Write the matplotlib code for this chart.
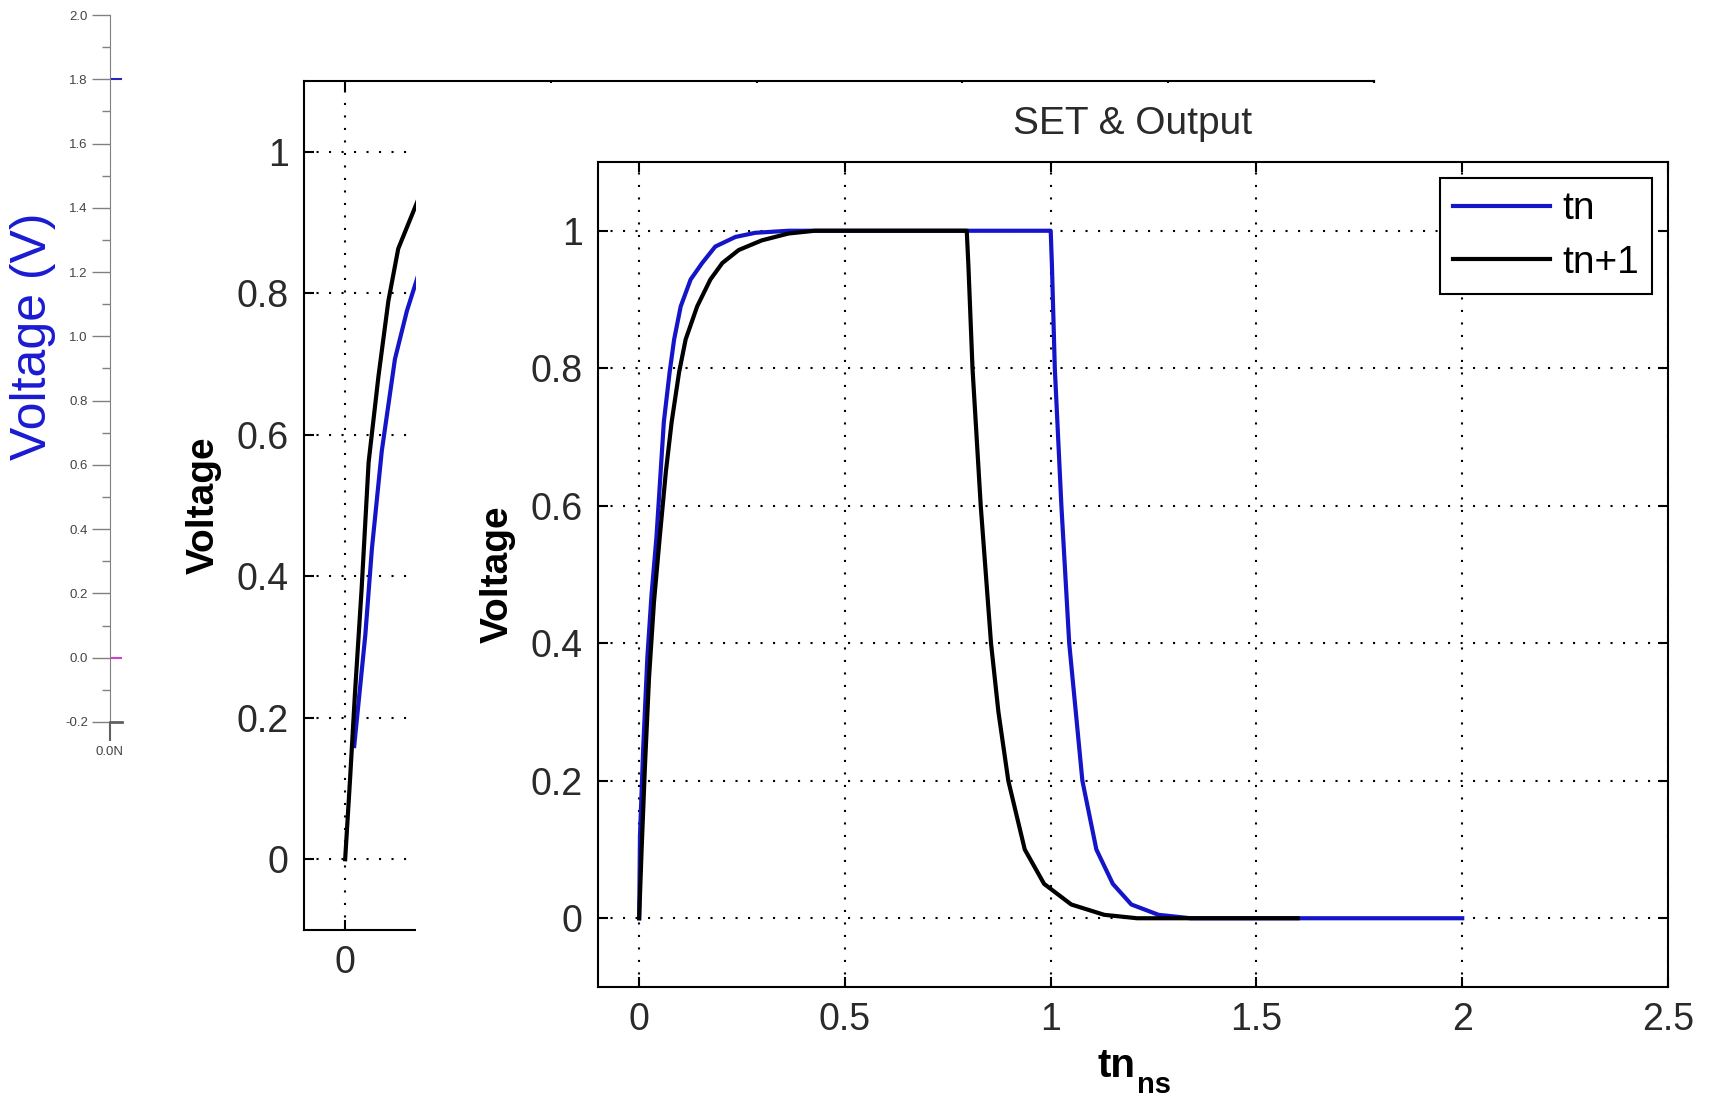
import matplotlib.pyplot as plt
from matplotlib.ticker import FormatStrFormatter, MultipleLocator

plt.rcParams['font.family'] = ['Liberation Sans', 'DejaVu Sans']

# --- front plot "SET & Output" ---
tn_t = [0, 0.002, 0.01, 0.02, 0.03, 0.042, 0.060, 0.074, 0.085, 0.101, 0.125, 0.153, 0.185, 0.234, 0.282, 0.363,
        1.0, 1.003, 1.01, 1.026, 1.045, 1.077, 1.111, 1.151, 1.196, 1.262, 1.34, 2.0]
tn_v = [0, 0.12, 0.25, 0.38, 0.47, 0.554, 0.722, 0.794, 0.842, 0.890, 0.929, 0.953, 0.977, 0.991, 0.997, 1.0,
        1.0, 0.95, 0.8, 0.6, 0.4, 0.2, 0.1, 0.05, 0.02, 0.005, 0.0, 0.0]
tn1_t = [0, 0.006, 0.014, 0.024, 0.036, 0.050, 0.065, 0.079, 0.097, 0.113, 0.141, 0.173, 0.202, 0.242, 0.298,
         0.363, 0.427, 0.796, 0.80, 0.81, 0.83, 0.855, 0.873, 0.897, 0.937, 0.984, 1.05, 1.13, 1.21, 1.6]
tn1_v = [0, 0.1, 0.22, 0.35, 0.46, 0.554, 0.650, 0.722, 0.794, 0.842, 0.890, 0.929, 0.953, 0.972, 0.986,
         0.996, 1.0, 1.0, 0.95, 0.8, 0.6, 0.4, 0.3, 0.2, 0.1, 0.05, 0.02, 0.005, 0.0, 0.0]

# --- plot behind it (mostly hidden) ---
mid_tn_t = [0.022, 0.049, 0.065, 0.089, 0.121, 0.150, 0.180]
mid_tn_v = [0.16, 0.317, 0.439, 0.577, 0.707, 0.775, 0.830]
mid_tn1_t = [0, 0.012, 0.024, 0.040, 0.057, 0.081, 0.105, 0.129, 0.180]
mid_tn1_v = [0, 0.114, 0.236, 0.382, 0.561, 0.683, 0.789, 0.863, 0.936]

# --- simulator axis on the far left ---
rail_t = [0, 1]
vdd_v = [1.8, 1.8]
gnd_v = [0, 0]
left_yticks = [-0.2, 0.0, 0.2, 0.4, 0.6, 0.8, 1.0, 1.2, 1.4, 1.6, 1.8, 2.0]

x_ticks = [0, 0.5, 1, 1.5, 2, 2.5]
y_ticks = [0, 0.2, 0.4, 0.6, 0.8, 1]

W, H = 1713, 1099
fig = plt.figure(figsize=(W / 100, H / 100), dpi=100)


def px_axes(l, t, r, b):
    return fig.add_axes([l / W, 1 - b / H, (r - l) / W, (b - t) / H])


def matlab_style(ax):
    ax.set_xlim(-0.1, 2.5)
    ax.set_ylim(-0.1, 1.1)
    ax.set_xticks(x_ticks)
    ax.set_yticks(y_ticks)
    ax.xaxis.set_major_formatter(FormatStrFormatter('%g'))
    ax.yaxis.set_major_formatter(FormatStrFormatter('%g'))
    ax.tick_params(direction='in', length=7, width=1.5, top=True, right=True,
                   labelsize=27, pad=11, labelcolor='#2a2a2a')
    ax.grid(True, color='black', linestyle=(0, (1, 5)), linewidth=1.5)
    for s in ax.spines.values():
        s.set_linewidth(1.5)


blue = '#1414c8'

# left axis
ax_l = px_axes(110, 15, 122, 722)
ax_l.set_zorder(1)
ax_l.plot(rail_t, vdd_v, color='#2828b4', lw=1.5)
ax_l.plot(rail_t, gnd_v, color='#d040d0', lw=1.5)
ax_l.set_xlim(0, 1)
ax_l.set_ylim(-0.2, 2.0)
ax_l.set_yticks(left_yticks)
ax_l.yaxis.set_major_formatter(FormatStrFormatter('%.1f'))
ax_l.yaxis.set_minor_locator(MultipleLocator(0.1))
ax_l.set_xticks([0])
ax_l.set_xticklabels(['0.0N'])
ax_l.tick_params(axis='y', which='major', direction='out', length=13, width=1, color='#808080',
                 labelsize=9.5, pad=3, labelcolor='#444444')
ax_l.tick_params(axis='y', which='minor', direction='out', length=6, width=1, color='#808080')
ax_l.tick_params(axis='x', direction='out', length=14, width=1.5, color='#606060',
                 labelsize=9.5, pad=3, labelcolor='#444444')
ax_l.spines['top'].set_visible(False)
ax_l.spines['right'].set_visible(False)
ax_l.spines['left'].set_color('#808080')
ax_l.spines['bottom'].set_color('#606060')
ax_l.spines['bottom'].set_linewidth(2)
fig.text(33 / W, 1 - 336 / H, 'Voltage (V)', rotation=90, ha='center', va='center',
         fontsize=36, color='#1a1ad2')

# middle axis
ax_m = px_axes(304, 81, 1374, 930)
ax_m.set_zorder(2)
ax_m.plot(mid_tn_t, mid_tn_v, color=blue, lw=3)
ax_m.plot(mid_tn1_t, mid_tn1_v, color='black', lw=3)
matlab_style(ax_m)
ax_m.set_ylabel('Voltage', fontsize=28, fontweight='bold', labelpad=11)

# white cover of the pasted front plot
cover = fig.add_axes([416 / W, 0, 1 - 416 / W, 1 - 83 / H])
cover.set_zorder(3)
cover.set_xticks([])
cover.set_yticks([])
for s in cover.spines.values():
    s.set_visible(False)

# front axis
ax = px_axes(598, 162, 1668, 987)
ax.set_zorder(4)
ax.plot(tn_t, tn_v, color=blue, lw=3, label='tn')
ax.plot(tn1_t, tn1_v, color='black', lw=3, label='tn+1')
matlab_style(ax)
ax.set_title('SET & Output', fontsize=28, pad=20, color='#2a2a2a')
ax.set_xlabel('tn', fontsize=29, fontweight='bold', labelpad=6)
ax.xaxis.label.set_x(0.485)
ax.annotate('ns', xy=(1, 0), xycoords=ax.xaxis.label, xytext=(0.5, 0), textcoords='offset points',
            ha='left', va='center', fontsize=21, fontweight='bold')
ax.set_ylabel('Voltage', fontsize=28, fontweight='bold', labelpad=11)
leg = ax.legend(loc='upper right', fontsize=28, fancybox=False, framealpha=1, edgecolor='black',
                borderaxespad=0.4, handlelength=2.5, handletextpad=0.3, labelspacing=0.45, borderpad=0.35)
leg.get_frame().set_linewidth(1.5)

fig.savefig('out.png', dpi=100)
